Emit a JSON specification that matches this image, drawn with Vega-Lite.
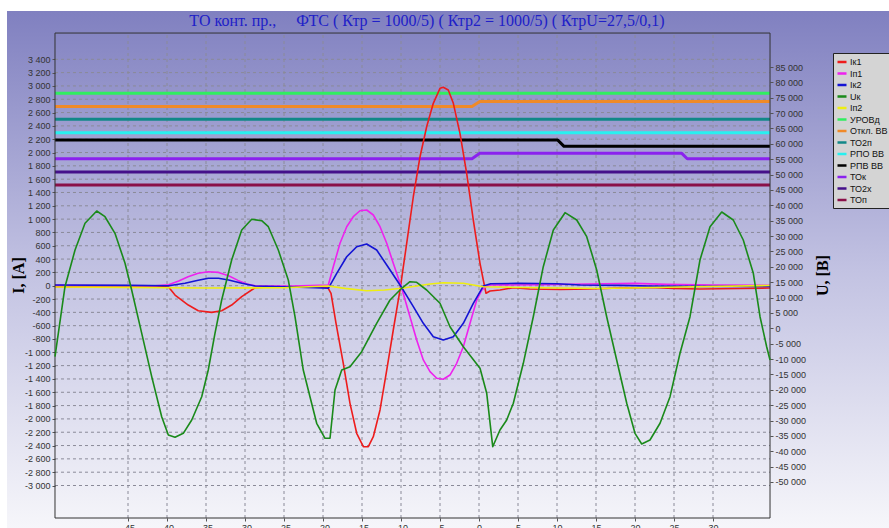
{
"$schema": "https://vega.github.io/schema/vega-lite/v6.json",
"width": 882, "height": 517,
"autosize": {"type": "none"},
"padding": {"left": 7, "top": 11, "right": 0, "bottom": 0},
"background": "#ffffff",
"title": {"text": "ТО конт. пр.,\u00a0\u00a0\u00a0\u00a0\u00a0ФТС ( Ктр = 1000/5) ( Ктр2 = 1000/5) ( КтрU=27,5/0,1)", "font": "Liberation Serif", "fontSize": 16, "fontWeight": "normal", "color": "#2020c8", "anchor": "middle", "frame": "group", "offset": 0, "baseline": "alphabetic", "dx": -21, "dy": 31},
"datasets": {
"sig": [
{"s":"УРОВд","x":-54.36,"v":2889},{"s":"УРОВд","x":37.31,"v":2889},
{"s":"Откл. ВВ","x":-54.36,"v":2690},{"s":"Откл. ВВ","x":-0.9,"v":2690},{"s":"Откл. ВВ","x":0.1,"v":2766},{"s":"Откл. ВВ","x":37.31,"v":2766},
{"s":"ТО2п","x":-54.36,"v":2498},{"s":"ТО2п","x":37.31,"v":2498},
{"s":"РПО ВВ","x":-54.36,"v":2297},{"s":"РПО ВВ","x":37.31,"v":2297},
{"s":"РПВ ВВ","x":-54.36,"v":2187},{"s":"РПВ ВВ","x":10.1,"v":2187},{"s":"РПВ ВВ","x":10.9,"v":2093},{"s":"РПВ ВВ","x":37.31,"v":2093},
{"s":"ТОк","x":-54.36,"v":1907},{"s":"ТОк","x":-0.9,"v":1907},{"s":"ТОк","x":0.1,"v":1988},{"s":"ТОк","x":26.0,"v":1988},{"s":"ТОк","x":26.7,"v":1907},{"s":"ТОк","x":37.31,"v":1907},
{"s":"ТО2х","x":-54.36,"v":1707},{"s":"ТО2х","x":37.31,"v":1707},
{"s":"ТОп","x":-54.36,"v":1512},{"s":"ТОп","x":37.31,"v":1512},
{"s":"Iк1","x":-54.36,"v":-15},{"s":"Iк1","x":-45,"v":-12},{"s":"Iк1","x":-40.5,"v":-15},{"s":"Iк1","x":-39.8,"v":-20},{"s":"Iк1","x":-38.97,"v":-140},{"s":"Iк1","x":-37.27,"v":-290},{"s":"Iк1","x":-35.99,"v":-375},{"s":"Iк1","x":-34.27,"v":-400},{"s":"Iк1","x":-32.99,"v":-375},{"s":"Iк1","x":-31.71,"v":-290},{"s":"Iк1","x":-30.42,"v":-165},{"s":"Iк1","x":-28.72,"v":-30},{"s":"Iк1","x":-27,"v":-20},{"s":"Iк1","x":-22,"v":-20},{"s":"Iк1","x":-19.4,"v":-24},{"s":"Iк1","x":-18.97,"v":-114},{"s":"Iк1","x":-18.33,"v":-565},{"s":"Iк1","x":-17.4,"v":-1165},{"s":"Iк1","x":-16.54,"v":-1766},{"s":"Iк1","x":-15.68,"v":-2216},{"s":"Iк1","x":-14.83,"v":-2417},{"s":"Iк1","x":-14.19,"v":-2417},{"s":"Iк1","x":-13.55,"v":-2267},{"s":"Iк1","x":-12.69,"v":-1866},{"s":"Iк1","x":-11.83,"v":-1266},{"s":"Iк1","x":-10.99,"v":-665},{"s":"Iк1","x":-10.13,"v":-65},{"s":"Iк1","x":-9.27,"v":637},{"s":"Iк1","x":-8.42,"v":1336},{"s":"Iк1","x":-7.56,"v":1937},{"s":"Iк1","x":-6.71,"v":2387},{"s":"Iк1","x":-5.86,"v":2739},{"s":"Iк1","x":-5.0,"v":2964},{"s":"Iк1","x":-4.58,"v":2979},{"s":"Iк1","x":-3.94,"v":2938},{"s":"Iк1","x":-3.29,"v":2739},{"s":"Iк1","x":-2.44,"v":2288},{"s":"Iк1","x":-1.58,"v":1688},{"s":"Iк1","x":-0.73,"v":986},{"s":"Iк1","x":0.13,"v":336},{"s":"Iк1","x":0.55,"v":86},{"s":"Iк1","x":0.9,"v":-114},{"s":"Iк1","x":1.41,"v":-80},{"s":"Iк1","x":2.69,"v":-65},{"s":"Iк1","x":4.4,"v":-30},{"s":"Iк1","x":6.5,"v":-50},{"s":"Iк1","x":10.4,"v":-57},{"s":"Iк1","x":14.2,"v":-50},{"s":"Iк1","x":18,"v":-35},{"s":"Iк1","x":21.9,"v":-27},{"s":"Iк1","x":25,"v":-40},{"s":"Iк1","x":28.3,"v":-50},{"s":"Iк1","x":33.5,"v":-42},{"s":"Iк1","x":37.31,"v":-35},
{"s":"Iп1","x":-54.36,"v":5},{"s":"Iп1","x":-41.5,"v":0},{"s":"Iп1","x":-39.8,"v":15},{"s":"Iп1","x":-38.5,"v":70},{"s":"Iп1","x":-37.3,"v":135},{"s":"Iп1","x":-36,"v":186},{"s":"Iп1","x":-34.7,"v":210},{"s":"Iп1","x":-33.4,"v":200},{"s":"Iп1","x":-32.1,"v":150},{"s":"Iп1","x":-30.9,"v":80},{"s":"Iп1","x":-29.6,"v":20},{"s":"Iп1","x":-28.7,"v":0},{"s":"Iп1","x":-24,"v":-5},{"s":"Iп1","x":-19.32,"v":10},{"s":"Iп1","x":-18.68,"v":285},{"s":"Iп1","x":-17.82,"v":637},{"s":"Iп1","x":-16.96,"v":886},{"s":"Iп1","x":-16.12,"v":1036},{"s":"Iп1","x":-15.26,"v":1126},{"s":"Iп1","x":-14.4,"v":1137},{"s":"Iп1","x":-13.55,"v":1062},{"s":"Iп1","x":-12.69,"v":886},{"s":"Iп1","x":-11.83,"v":637},{"s":"Iп1","x":-10.99,"v":336},{"s":"Iп1","x":-9.91,"v":-39},{"s":"Iп1","x":-8.85,"v":-465},{"s":"Iп1","x":-7.99,"v":-815},{"s":"Iп1","x":-7.14,"v":-1115},{"s":"Iп1","x":-6.28,"v":-1291},{"s":"Iп1","x":-5.42,"v":-1390},{"s":"Iп1","x":-4.58,"v":-1405},{"s":"Iп1","x":-3.72,"v":-1341},{"s":"Iп1","x":-2.86,"v":-1165},{"s":"Iп1","x":-2.01,"v":-916},{"s":"Iп1","x":-1.15,"v":-565},{"s":"Iп1","x":-0.29,"v":-215},{"s":"Iп1","x":0.35,"v":-65},{"s":"Iп1","x":0.8,"v":-20},{"s":"Iп1","x":1.5,"v":10},{"s":"Iп1","x":8,"v":15},{"s":"Iп1","x":14,"v":25},{"s":"Iп1","x":20,"v":35},{"s":"Iп1","x":24,"v":20},{"s":"Iп1","x":30,"v":10},{"s":"Iп1","x":37.31,"v":5},
{"s":"Iк2","x":-54.36,"v":10},{"s":"Iк2","x":-45,"v":5},{"s":"Iк2","x":-39.8,"v":0},{"s":"Iк2","x":-37.7,"v":36},{"s":"Iк2","x":-36,"v":81},{"s":"Iк2","x":-34.7,"v":111},{"s":"Iк2","x":-33.4,"v":111},{"s":"Iк2","x":-32.1,"v":86},{"s":"Iк2","x":-30.4,"v":36},{"s":"Iк2","x":-28.7,"v":-5},{"s":"Iк2","x":-25,"v":-15},{"s":"Iк2","x":-21,"v":-30},{"s":"Iк2","x":-19.32,"v":-39},{"s":"Iк2","x":-18.24,"v":186},{"s":"Iк2","x":-16.96,"v":435},{"s":"Iк2","x":-15.68,"v":586},{"s":"Iк2","x":-14.4,"v":626},{"s":"Iк2","x":-13.12,"v":536},{"s":"Iк2","x":-11.83,"v":311},{"s":"Iк2","x":-10.55,"v":86},{"s":"Iк2","x":-9.71,"v":-65},{"s":"Iк2","x":-8.42,"v":-315},{"s":"Iк2","x":-7.14,"v":-565},{"s":"Iк2","x":-5.86,"v":-766},{"s":"Iк2","x":-4.58,"v":-815},{"s":"Iк2","x":-3.29,"v":-766},{"s":"Iк2","x":-2.01,"v":-565},{"s":"Iк2","x":-0.73,"v":-264},{"s":"Iк2","x":0.55,"v":-5},{"s":"Iк2","x":1.5,"v":30},{"s":"Iк2","x":5,"v":36},{"s":"Iк2","x":10,"v":30},{"s":"Iк2","x":13,"v":10},{"s":"Iк2","x":18,"v":5},{"s":"Iк2","x":22,"v":-5},{"s":"Iк2","x":28,"v":-10},{"s":"Iк2","x":37.31,"v":-10},
{"s":"Iп2","x":-54.36,"v":-20},{"s":"Iп2","x":-45,"v":-25},{"s":"Iп2","x":-40,"v":-30},{"s":"Iп2","x":-35,"v":-35},{"s":"Iп2","x":-25,"v":-30},{"s":"Iп2","x":-19.32,"v":-5},{"s":"Iп2","x":-17.2,"v":-40},{"s":"Iп2","x":-14.4,"v":-75},{"s":"Iп2","x":-12.1,"v":-65},{"s":"Iп2","x":-9.91,"v":-39},{"s":"Iп2","x":-6.28,"v":25},{"s":"Iп2","x":-4.58,"v":45},{"s":"Iп2","x":-2.01,"v":36},{"s":"Iп2","x":0.55,"v":-15},{"s":"Iп2","x":5.3,"v":-27},{"s":"Iп2","x":15.5,"v":-42},{"s":"Iп2","x":25.8,"v":-20},{"s":"Iп2","x":37.31,"v":3},
{"s":"Uк","x":-54.36,"v":-9240},{"s":"Uк","x":-53.08,"v":13530},{"s":"Uк","x":-51.79,"v":25470},{"s":"Uк","x":-50.51,"v":34160},{"s":"Uк","x":-49.01,"v":38160},{"s":"Uк","x":-47.95,"v":36300},{"s":"Uк","x":-46.67,"v":30900},{"s":"Uк","x":-45.38,"v":21150},{"s":"Uк","x":-44.53,"v":12460},{"s":"Uк","x":-43.24,"v":-1630},{"s":"Uк","x":-41.96,"v":-15740},{"s":"Uк","x":-40.68,"v":-28760},{"s":"Uк","x":-39.83,"v":-34710},{"s":"Uк","x":-38.97,"v":-35460},{"s":"Uк","x":-37.91,"v":-34160},{"s":"Uк","x":-36.83,"v":-29830},{"s":"Uк","x":-35.55,"v":-22250},{"s":"Uк","x":-34.71,"v":-13570},{"s":"Uк","x":-33.85,"v":-1630},{"s":"Uк","x":-32.99,"v":9210},{"s":"Uк","x":-31.71,"v":22220},{"s":"Uк","x":-30.42,"v":31980},{"s":"Uк","x":-29.14,"v":35460},{"s":"Uк","x":-27.86,"v":35000},{"s":"Uк","x":-27.01,"v":33050},{"s":"Uк","x":-25.73,"v":25470},{"s":"Uк","x":-24.45,"v":15710},{"s":"Uк","x":-23.59,"v":3770},{"s":"Uк","x":-22.53,"v":-13570},{"s":"Uк","x":-21.67,"v":-22250},{"s":"Uк","x":-20.81,"v":-30900},{"s":"Uк","x":-19.74,"v":-35780},{"s":"Uк","x":-19.1,"v":-35780},{"s":"Uк","x":-18.46,"v":-20070},{"s":"Uк","x":-17.6,"v":-13570},{"s":"Uк","x":-16.54,"v":-12490},{"s":"Uк","x":-15.04,"v":-7610},{"s":"Uк","x":-13.12,"v":1630},{"s":"Uк","x":-11.41,"v":9210},{"s":"Uк","x":-9.91,"v":13010},{"s":"Uк","x":-8.85,"v":15160},{"s":"Uк","x":-7.99,"v":14960},{"s":"Uк","x":-6.71,"v":12460},{"s":"Uк","x":-5.0,"v":8130},{"s":"Uк","x":-3.72,"v":520},{"s":"Uк","x":-2.01,"v":-5990},{"s":"Uк","x":0.13,"v":-13010},{"s":"Uк","x":0.99,"v":-21150},{"s":"Uк","x":1.76,"v":-38520},{"s":"Uк","x":2.69,"v":-33080},{"s":"Uк","x":3.55,"v":-29830},{"s":"Uк","x":4.4,"v":-24400},{"s":"Uк","x":5.68,"v":-11390},{"s":"Uк","x":6.96,"v":3770},{"s":"Uк","x":8.24,"v":20040},{"s":"Uк","x":9.53,"v":31980},{"s":"Uк","x":11.03,"v":37610},{"s":"Uк","x":12.53,"v":35230},{"s":"Uк","x":13.81,"v":29800},{"s":"Uк","x":15.09,"v":18970},{"s":"Uк","x":16.37,"v":3770},{"s":"Uк","x":17.65,"v":-10310},{"s":"Uк","x":18.94,"v":-24400},{"s":"Uк","x":20.0,"v":-34160},{"s":"Uк","x":20.86,"v":-37640},{"s":"Uк","x":21.92,"v":-36340},{"s":"Uк","x":23.21,"v":-30900},{"s":"Uк","x":24.49,"v":-22250},{"s":"Uк","x":25.77,"v":-8130},{"s":"Uк","x":27.05,"v":3770},{"s":"Uк","x":28.33,"v":22220},{"s":"Uк","x":29.62,"v":33050},{"s":"Uк","x":31.12,"v":37830},{"s":"Uк","x":32.6,"v":35230},{"s":"Uк","x":33.88,"v":28720},{"s":"Uк","x":35.17,"v":17890},{"s":"Uк","x":36.03,"v":3770},{"s":"Uк","x":36.88,"v":-5990},{"s":"Uк","x":37.31,"v":-10310}
],
"gx": [{"gx":-45},{"gx":-40},{"gx":-35},{"gx":-30},{"gx":-25},{"gx":-20},{"gx":-15},{"gx":-10},{"gx":-5},{"gx":0},{"gx":5},{"gx":10},{"gx":15},{"gx":20},{"gx":25},{"gx":30}],
"gy": [{"gy":-3000},{"gy":-2800},{"gy":-2600},{"gy":-2400},{"gy":-2200},{"gy":-2000},{"gy":-1800},{"gy":-1600},{"gy":-1400},{"gy":-1200},{"gy":-1000},{"gy":-800},{"gy":-600},{"gy":-400},{"gy":-200},{"gy":0},{"gy":200},{"gy":400},{"gy":600},{"gy":800},{"gy":1000},{"gy":1200},{"gy":1400},{"gy":1600},{"gy":1800},{"gy":2000},{"gy":2200},{"gy":2400},{"gy":2600},{"gy":2800},{"gy":3000},{"gy":3200},{"gy":3400}]
},
"layer": [
{
"layer": [
{
"data": {"name": "gy"},
"mark": {"type": "rule", "color": "#8a8a98", "strokeWidth": 1, "strokeDash": [3, 3]},
"encoding": {
"y": {"field": "gy", "type": "quantitative", "scale": {"domain": [-3638, 4125], "nice": false, "zero": false}, "axis": {"values": [-3000,-2800,-2600,-2400,-2200,-2000,-1800,-1600,-1400,-1200,-1000,-800,-600,-400,-200,0,200,400,600,800,1000,1200,1400,1600,1800,2000,2200,2400,2600,2800,3000,3200,3400], "format": ",.0f", "orient": "left", "title": "I, [A]", "titleX": -37, "titleY": 264, "titleAngle": -90, "titleAlign": "center", "titleBaseline": "middle"}},
"x": {"datum": -54.36, "type": "quantitative", "scale": {"domain": [-60.513, 52.564], "nice": false, "zero": false}, "axis": {"values": [-45,-40,-35,-30,-25,-20,-15,-10,-5,0,5,10,15,20,25,30], "format": ",.0f", "title": null, "orient": "bottom"}},
"x2": {"datum": 37.31}
}
},
{
"data": {"name": "gx"},
"mark": {"type": "rule", "color": "#8a8a98", "strokeWidth": 1, "strokeDash": [3, 3]},
"encoding": {
"x": {"field": "gx", "type": "quantitative", "scale": {"domain": [-60.513, 52.564], "nice": false, "zero": false}, "axis": {"values": [-45,-40,-35,-30,-25,-20,-15,-10,-5,0,5,10,15,20,25,30], "format": ",.0f", "title": null, "orient": "bottom"}},
"y": {"datum": -3488, "type": "quantitative", "scale": {"domain": [-3638, 4125], "nice": false, "zero": false}, "axis": {"values": [-3000,-2800,-2600,-2400,-2200,-2000,-1800,-1600,-1400,-1200,-1000,-800,-600,-400,-200,0,200,400,600,800,1000,1200,1400,1600,1800,2000,2200,2400,2600,2800,3000,3200,3400], "format": ",.0f", "orient": "left", "title": "I, [A]", "titleX": -37, "titleY": 264, "titleAngle": -90, "titleAlign": "center", "titleBaseline": "middle"}},
"y2": {"datum": 3794}
}
},
{
"data": {"name": "sig"},
"transform": [{"filter": {"field": "s", "oneOf": ["УРОВд","Откл. ВВ","ТО2п","РПО ВВ","РПВ ВВ","ТОк","ТО2х","ТОп"]}}],
"mark": {"type": "line", "strokeWidth": 3, "strokeJoin": "round"},
"encoding": {
"x": {"field": "x", "type": "quantitative", "scale": {"domain": [-60.513, 52.564], "nice": false, "zero": false}, "axis": {"values": [-45,-40,-35,-30,-25,-20,-15,-10,-5,0,5,10,15,20,25,30], "format": ",.0f", "title": null, "orient": "bottom"}},
"y": {"field": "v", "type": "quantitative", "scale": {"domain": [-3638, 4125], "nice": false, "zero": false}, "axis": {"values": [-3000,-2800,-2600,-2400,-2200,-2000,-1800,-1600,-1400,-1200,-1000,-800,-600,-400,-200,0,200,400,600,800,1000,1200,1400,1600,1800,2000,2200,2400,2600,2800,3000,3200,3400], "format": ",.0f", "orient": "left", "title": "I, [A]", "titleX": -37, "titleY": 264, "titleAngle": -90, "titleAlign": "center", "titleBaseline": "middle"}},
"color": {"field": "s", "type": "nominal", "scale": {"domain": ["Iк1","Iп1","Iк2","Uк","Iп2","УРОВд","Откл. ВВ","ТО2п","РПО ВВ","РПВ ВВ","ТОк","ТО2х","ТОп"], "range": ["#ee1c1c","#ee22ee","#1414d4","#1a8a1a","#eeee10","#30ee60","#f08a28","#128888","#28f0f0","#000000","#8a22ee","#44108a","#8a1048"]}, "legend": {"orient": "none", "legendX": 826, "legendY": 42, "title": null}}
}
},
{
"data": {"name": "sig"},
"transform": [{"filter": {"field": "s", "oneOf": ["Iк1","Iп1","Iк2","Iп2"]}}],
"mark": {"type": "line", "strokeWidth": 1.6, "strokeJoin": "round"},
"encoding": {
"x": {"field": "x", "type": "quantitative", "scale": {"domain": [-60.513, 52.564], "nice": false, "zero": false}, "axis": {"values": [-45,-40,-35,-30,-25,-20,-15,-10,-5,0,5,10,15,20,25,30], "format": ",.0f", "title": null, "orient": "bottom"}},
"y": {"field": "v", "type": "quantitative", "scale": {"domain": [-3638, 4125], "nice": false, "zero": false}, "axis": {"values": [-3000,-2800,-2600,-2400,-2200,-2000,-1800,-1600,-1400,-1200,-1000,-800,-600,-400,-200,0,200,400,600,800,1000,1200,1400,1600,1800,2000,2200,2400,2600,2800,3000,3200,3400], "format": ",.0f", "orient": "left", "title": "I, [A]", "titleX": -37, "titleY": 264, "titleAngle": -90, "titleAlign": "center", "titleBaseline": "middle"}},
"color": {"field": "s", "type": "nominal", "scale": {"domain": ["Iк1","Iп1","Iк2","Uк","Iп2","УРОВд","Откл. ВВ","ТО2п","РПО ВВ","РПВ ВВ","ТОк","ТО2х","ТОп"], "range": ["#ee1c1c","#ee22ee","#1414d4","#1a8a1a","#eeee10","#30ee60","#f08a28","#128888","#28f0f0","#000000","#8a22ee","#44108a","#8a1048"]}, "legend": {"orient": "none", "legendX": 826, "legendY": 42, "title": null}}
}
},
{
"data": {"values": [{}]},
"mark": {"type": "rect", "fill": null, "fillOpacity": 0, "stroke": "#333333", "strokeWidth": 1},
"encoding": {
"x": {"datum": -54.36, "type": "quantitative", "scale": {"domain": [-60.513, 52.564], "nice": false, "zero": false}, "axis": {"values": [-45,-40,-35,-30,-25,-20,-15,-10,-5,0,5,10,15,20,25,30], "format": ",.0f", "title": null, "orient": "bottom"}},
"x2": {"datum": 37.31},
"y": {"datum": -3488, "type": "quantitative", "scale": {"domain": [-3638, 4125], "nice": false, "zero": false}, "axis": {"values": [-3000,-2800,-2600,-2400,-2200,-2000,-1800,-1600,-1400,-1200,-1000,-800,-600,-400,-200,0,200,400,600,800,1000,1200,1400,1600,1800,2000,2200,2400,2600,2800,3000,3200,3400], "format": ",.0f", "orient": "left", "title": "I, [A]", "titleX": -37, "titleY": 264, "titleAngle": -90, "titleAlign": "center", "titleBaseline": "middle"}},
"y2": {"datum": 3794}
}
}
]
},
{
"data": {"name": "sig"},
"transform": [{"filter": {"field": "s", "equal": "Uк"}}],
"mark": {"type": "line", "strokeWidth": 1.6, "strokeJoin": "round"},
"encoding": {
"x": {"field": "x", "type": "quantitative", "scale": {"domain": [-60.513, 52.564], "nice": false, "zero": false}, "axis": {"values": [-45,-40,-35,-30,-25,-20,-15,-10,-5,0,5,10,15,20,25,30], "format": ",.0f", "title": null, "orient": "bottom"}},
"y": {"field": "v", "type": "quantitative", "scale": {"domain": [-64965, 103221], "nice": false, "zero": false}, "axis": {"values": [-50000,-45000,-40000,-35000,-30000,-25000,-20000,-15000,-10000,-5000,0,5000,10000,15000,20000,25000,30000,35000,40000,45000,50000,55000,60000,65000,70000,75000,80000,85000], "format": ",.0f", "orient": "right", "title": "U, [В]", "titleX": 52, "titleY": 264, "titleAngle": -90, "titleAlign": "center", "titleBaseline": "middle"}},
"color": {"field": "s", "type": "nominal", "scale": {"domain": ["Iк1","Iп1","Iк2","Uк","Iп2","УРОВд","Откл. ВВ","ТО2п","РПО ВВ","РПВ ВВ","ТОк","ТО2х","ТОп"], "range": ["#ee1c1c","#ee22ee","#1414d4","#1a8a1a","#eeee10","#30ee60","#f08a28","#128888","#28f0f0","#000000","#8a22ee","#44108a","#8a1048"]}, "legend": {"orient": "none", "legendX": 826, "legendY": 42, "title": null}}
}
}
],
"resolve": {"scale": {"y": "independent"}},
"config": {
"locale": {"number": {"decimal": ",", "thousands": " ", "grouping": [3], "currency": ["", ""], "minus": "-"}},
"view": {"stroke": null, "fill": {"gradient": "linear", "x1": 0, "y1": 0, "x2": 0, "y2": 1, "stops": [{"offset": 0, "color": "#8080c0"}, {"offset": 0.5, "color": "#c2c2e2"}, {"offset": 1, "color": "#f6f6fa"}]}},
"axis": {"domain": false, "grid": false, "labelFont": "Liberation Sans", "labelFontSize": 9, "labelColor": "#333333", "tickColor": "#555555", "tickSize": 3, "labelPadding": 2, "titleFont": "Liberation Serif", "titleFontSize": 16, "titleFontWeight": "bold", "titleColor": "#000000"},
"axisLeft": {"offset": -48},
"axisRight": {"offset": -119},
"axisBottom": {"offset": -10},
"legend": {"fillColor": "#d4d4d4", "strokeColor": "#222222", "padding": 3, "symbolType": "stroke", "symbolSize": 81, "symbolStrokeWidth": 2.5, "labelFont": "Liberation Sans", "labelFontSize": 9, "labelColor": "#111111", "rowPadding": 0.5, "labelOffset": 2}
}
}
